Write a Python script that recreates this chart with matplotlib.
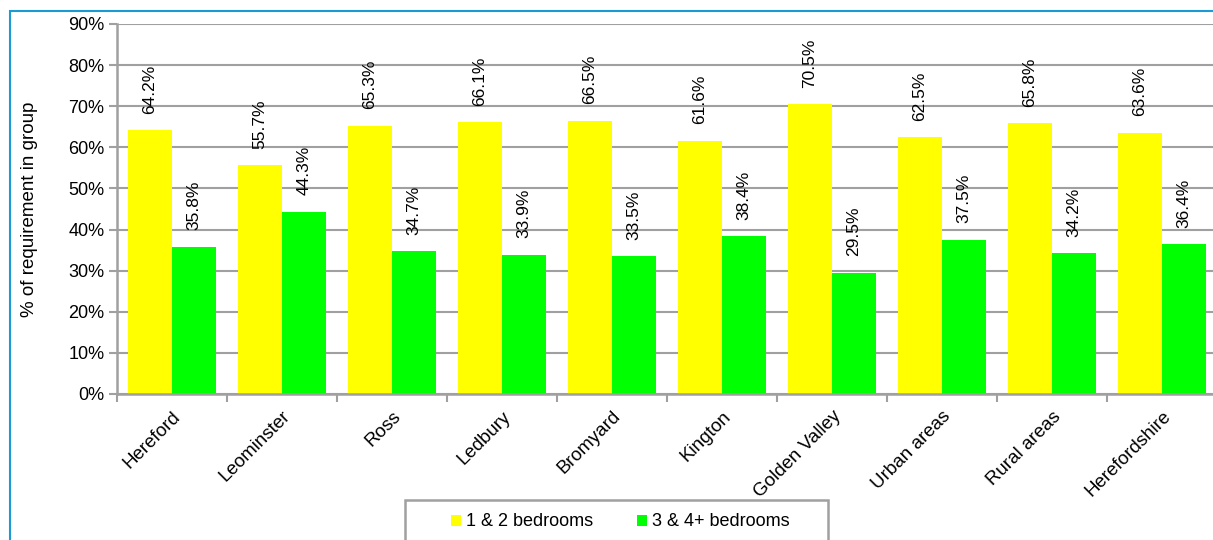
import matplotlib
matplotlib.use('Agg')
import matplotlib.pyplot as plt
from matplotlib.patches import Rectangle
from matplotlib.ticker import FixedLocator, PercentFormatter
import numpy as np

plt.rcParams['font.family'] = ['Liberation Sans', 'DejaVu Sans']

areas = ['Hereford', 'Leominster', 'Ross', 'Ledbury', 'Bromyard', 'Kington',
         'Golden Valley', 'Urban areas', 'Rural areas', 'Herefordshire']
small = [64.2, 55.7, 65.3, 66.1, 66.5, 61.6, 70.5, 62.5, 65.8, 63.6]
large = [35.8, 44.3, 34.7, 33.9, 33.5, 38.4, 29.5, 37.5, 34.2, 36.4]

W, H = 1213, 540
fig = plt.figure(figsize=(W / 100, H / 100), dpi=100)
ax = fig.add_axes([117 / W, 1 - 394 / H, 1100 / W, 370 / H])

# blue frame round the chart (runs off the right and bottom edges)
fig.patches.append(Rectangle((10 / W, -0.1), 1.1, 1 - 11 / H + 0.1,
                             transform=fig.transFigure, fill=False,
                             edgecolor='#1b9ad6', linewidth=1.5))
# legend box (also cut by the bottom edge)
fig.patches.append(Rectangle((405 / W, -0.1), 423 / W, 1 - 500 / H + 0.1,
                             transform=fig.transFigure, fill=False,
                             edgecolor='#a0a0a0', linewidth=1.8))

x = np.arange(len(areas))
w = 0.4
b1 = ax.bar(x - w / 2, small, w, color='#ffff00', label='1 & 2 bedrooms', zorder=2)
b2 = ax.bar(x + w / 2, large, w, color='#00ff00', label='3 & 4+ bedrooms', zorder=2)

for bars, vals in ((b1, small), (b2, large)):
    for r, v in zip(bars, vals):
        ax.text(r.get_x() + r.get_width() / 2, v + 4.0, f'{v:.1f}%',
                rotation=90, ha='center', va='bottom', fontsize=12.5)

ax.set_xlim(-0.5, len(areas) - 0.5)
ax.set_ylim(0, 90)
ax.set_yticks(np.arange(0, 91, 10))
ax.yaxis.set_major_formatter(PercentFormatter(decimals=0))
ax.yaxis.grid(True, color='#a0a0a0', linewidth=1.5, zorder=0)
ax.set_axisbelow(True)

ax.set_xticks(x)
ax.set_xticklabels(areas, rotation=45, ha='right', rotation_mode='anchor', fontsize=13.5)
ax.xaxis.set_minor_locator(FixedLocator(np.arange(-0.5, len(areas), 1)))
ax.tick_params(axis='x', which='major', length=0, pad=10)
ax.tick_params(axis='x', which='minor', length=6, color='#a0a0a0', width=1.5)
ax.tick_params(axis='y', length=6, color='#a0a0a0', width=1.5, labelsize=13, pad=3)

for s in ('top', 'right'):
    ax.spines[s].set_visible(False)
for s in ('left', 'bottom'):
    ax.spines[s].set_color('#a0a0a0')
    ax.spines[s].set_linewidth(1.8)

ax.set_ylabel('% of requirement in group', fontsize=13.5)
ax.yaxis.set_label_coords((38 - 117) / 1100, 0.5)

fig.legend(loc='center left', bbox_to_anchor=(451 / W, 1 - 522 / H), ncol=2,
           frameon=False, fontsize=13, handlelength=0.55, handleheight=0.55,
           columnspacing=2.4, borderpad=0, handletextpad=0.3, borderaxespad=0)

fig.savefig('out.png', dpi=100)
